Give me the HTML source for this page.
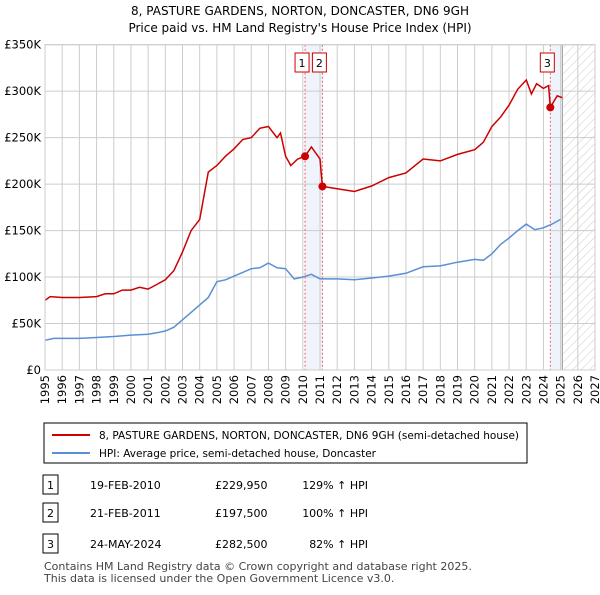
<!DOCTYPE html>
<html><head><meta charset="utf-8"><style>
body{margin:0;background:#fff;font-family:"Liberation Sans","DejaVu Sans",sans-serif;}
svg text{font-family:"DejaVu Sans","Liberation Sans",sans-serif;}
</style></head><body>
<svg id="c" width="600" height="590" xmlns="http://www.w3.org/2000/svg">
<defs><pattern id="hatch" width="6" height="6" patternUnits="userSpaceOnUse" patternTransform="rotate(45)"><line x1="0" y1="0" x2="0" y2="6" stroke="#ccc" stroke-width="1"/></pattern></defs>
<text x="300" y="15" text-anchor="middle" font-size="12">8, PASTURE GARDENS, NORTON, DONCASTER, DN6 9GH</text>
<text x="300" y="32" text-anchor="middle" font-size="12">Price paid vs. HM Land Registry's House Price Index (HPI)</text>
<g id="grid"></g><g id="marks"></g>
<rect x="44" y="423" width="483" height="40" fill="#fff" stroke="#000" stroke-width="1"/>
<line x1="52" y1="435" x2="90" y2="435" stroke="#cc0000" stroke-width="2"/>
<text x="99" y="439" font-size="10.5" textLength="420" lengthAdjust="spacingAndGlyphs">8, PASTURE GARDENS, NORTON, DONCASTER, DN6 9GH (semi-detached house)</text>
<line x1="52" y1="453" x2="90" y2="453" stroke="#5b8fd4" stroke-width="2"/>
<text x="99" y="457" font-size="10.5">HPI: Average price, semi-detached house, Doncaster</text>
<g id="table" font-size="11"></g>
<text x="44" y="570" font-size="11" fill="#444">Contains HM Land Registry data © Crown copyright and database right 2025.</text>
<text x="44" y="582" font-size="11" fill="#444">This data is licensed under the Open Government Licence v3.0.</text>
</svg>
<script>
const hpiYears=[1995,1995.5,1996,1997,1998,1999,2000,2001,2001.5,2002,2002.5,2003,2003.5,2004,2004.5,2005,2005.5,2006,2006.5,2007,2007.5,2008,2008.5,2009,2009.5,2010,2010.5,2011,2012,2013,2014,2015,2016,2017,2018,2019,2020,2020.5,2021,2021.5,2022,2022.5,2023,2023.5,2024,2024.5,2025];
const hpiValues=[32,34,34,34,35,36,37.5,38.5,40,42,46,54,62,70,78,95,97,101,105,109,110,115,110,109,98,100,103,98,98,97,99,101,104,111,112,116,119,118,125,135,142,150,157,151,153,157,162];
const priceYears=[1995,1995.3,1996,1997,1998,1998.5,1999,1999.5,2000,2000.5,2001,2001.5,2002,2002.5,2003,2003.5,2004,2004.5,2005,2005.5,2006,2006.5,2007,2007.5,2008,2008.5,2008.7,2009,2009.3,2009.7,2010.13,2010.5,2011.0,2011.14,2012,2013,2014,2015,2016,2017,2018,2019,2020,2020.5,2021,2021.5,2022,2022.5,2023,2023.3,2023.6,2024,2024.3,2024.4,2024.8,2025.1];
const priceValues=[75,79,78,78,79,82,82,86,86,89,87,92,97,107,127,150,162,213,220,230,238,248,250,260,262,250,255,230,220,227,229.95,240,227,197.5,195,192,198,207,212,227,225,232,237,245,262,272,285,302,312,297,308,303,306,282.5,295,293];
const saleLabels=["1","2","3"];
const saleDates=["19-FEB-2010","21-FEB-2011","24-MAY-2024"];
const saleYears=[2010.13,2011.14,2024.4];
const salePrices=[229.95,197.5,282.5];
const salePriceText=["£229,950","£197,500","£282,500"];
const saleHpiText=["129% ↑ HPI","100% ↑ HPI","82% ↑ HPI"];
const yTicks=[0,50,100,150,200,250,300,350];
const yTickLabels=["£0","£50K","£100K","£150K","£200K","£250K","£300K","£350K"];
const xTicks=[1995,1996,1997,1998,1999,2000,2001,2002,2003,2004,2005,2006,2007,2008,2009,2010,2011,2012,2013,2014,2015,2016,2017,2018,2019,2020,2021,2022,2023,2024,2025,2026,2027];
const forecastStart=2025.1;
const L=45,R=595,T=44.7,B=370;
const X=y=>L+(y-1995)/(2027-1995)*(R-L);
const Y=v=>B-v/350*(B-T);
const NS="http://www.w3.org/2000/svg";
function mk(tag,attrs,parent,txt){const e=document.createElementNS(NS,tag);for(const k in attrs)e.setAttribute(k,attrs[k]);if(txt!==undefined)e.textContent=txt;parent.appendChild(e);return e;}
const g=document.getElementById('grid'),m=document.getElementById('marks'),tb=document.getElementById('table');
let s1=mk('rect',{x:X(saleYears[0]),y:T,width:X(saleYears[1])-X(saleYears[0]),height:B-T,fill:'#eef3fc'},g);


let s2=mk('rect',{x:X(saleYears[2]),y:T,width:X(forecastStart)-X(saleYears[2]),height:B-T,fill:'#eef3fc'},g);


let hz=mk('rect',{x:X(forecastStart),y:T,width:R-X(forecastStart),height:B-T,fill:'url(#hatch)'},g);


xTicks.forEach(t=>{
 let l=mk('line',{x1:X(t),x2:X(t),y1:T,y2:B,stroke:'#ccc','stroke-width':1},g);
 
 
 let tx=mk('text',{x:0,y:0,'font-size':11.5,'text-anchor':'end',transform:`translate(${X(t)+4},${B+5}) rotate(-90)`},g,String(t));
 
 
});
yTicks.forEach((t,i)=>{
 let l=mk('line',{x1:L,x2:R,y1:Y(t),y2:Y(t),stroke:'#ccc','stroke-width':1},g);
 
 
 let tx=mk('text',{x:L-4,y:Y(t)+4,'font-size':11.5,'text-anchor':'end'},g,yTickLabels[i]);
 
 
});
let fl=mk('line',{x1:X(forecastStart),x2:X(forecastStart),y1:T,y2:B,stroke:'#999','stroke-width':1},g);


saleYears.forEach((sy,i)=>{
 let l=mk('line',{x1:X(sy),x2:X(sy),y1:T,y2:B,stroke:'#f06060','stroke-width':1,'stroke-dasharray':'2,2'},m);
 
 
 let bx=X(sy)-3;
 let r=mk('rect',{x:bx-7,y:53,width:14,height:19,fill:'#fff',stroke:'#cc0000'},m);
 
 
 let t=mk('text',{x:bx,y:67,'font-size':11,'text-anchor':'middle'},m,saleLabels[i]);
 
 
});
const pts=(xs,vs)=>xs.map((x,i)=>X(x).toFixed(1)+','+Y(vs[i]).toFixed(1)).join(' ');
let hl=mk('polyline',{points:pts(hpiYears,hpiValues),fill:'none',stroke:'#5b8fd4','stroke-width':1.5},m);


let pl=mk('polyline',{points:pts(priceYears,priceValues),fill:'none',stroke:'#cc0000','stroke-width':1.5},m);


saleYears.forEach((sy,i)=>{
 let c=mk('circle',{cx:X(sy),cy:Y(salePrices[i]),r:4,fill:'#cc0000'},m);
 
 
});
let ax=mk('rect',{x:L,y:T,width:R-L,height:B-T,fill:'none',stroke:'#ccc'},m);


const rowY=[486,514,545];
saleLabels.forEach((lb,i)=>{
 let r=mk('rect',{x:43,y:rowY[i]-11,width:15,height:19,fill:'#fff',stroke:'#000'},tb);
 
 
 let a=mk('text',{x:50.5,y:rowY[i]+3,'text-anchor':'middle'},tb,lb);
 
 
 let d=mk('text',{x:90,y:rowY[i]+3},tb,saleDates[i]);
 
 
 let p=mk('text',{x:215,y:rowY[i]+3},tb,salePriceText[i]);
 
 
 let h=mk('text',{x:368,y:rowY[i]+3,'text-anchor':'end'},tb,saleHpiText[i]);
 
 
});
</script>
</body></html>
